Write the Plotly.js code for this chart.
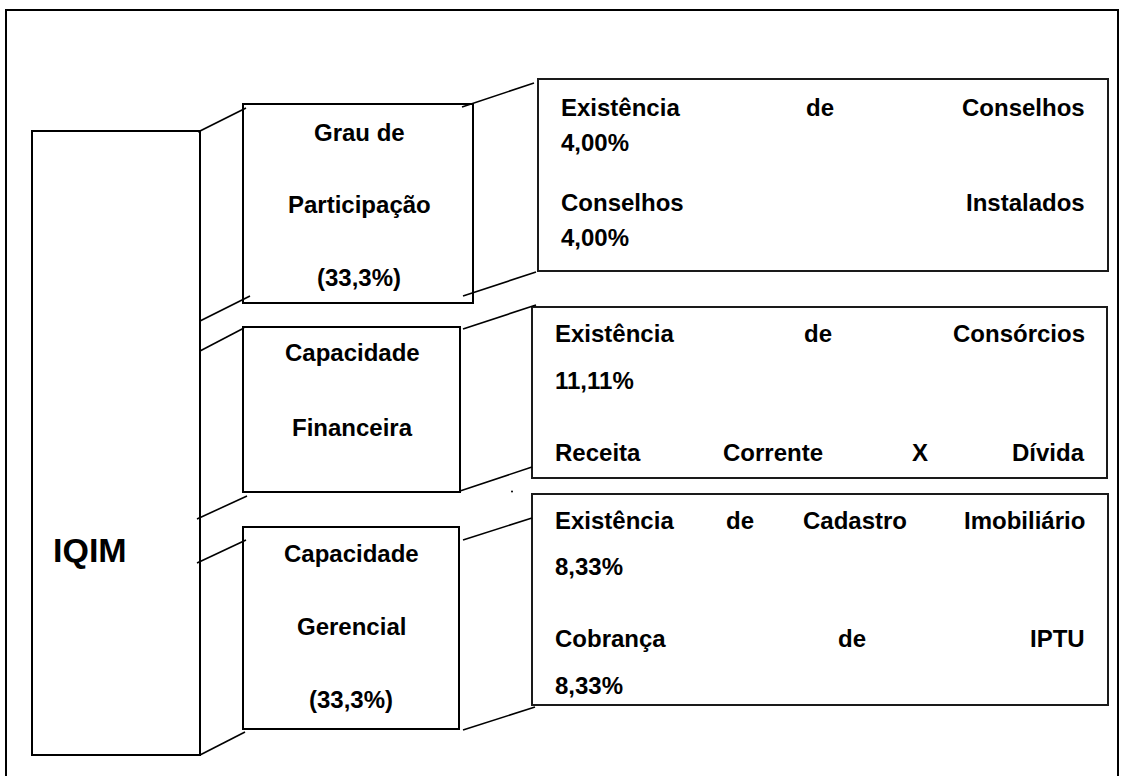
<!DOCTYPE html>
<html>
<head>
<meta charset="utf-8">
<script src="https://cdn.plot.ly/plotly-3.0.1.min.js"></script>
<style>html,body{margin:0;padding:0;background:#fff;}#chart{width:1123px;height:776px;}</style>
</head>
<body>
<div id="chart"></div>
<script>
// ---- content (text values) ----
const rootLabel = 'IQIM';
const dimensionLines = [
  ['Grau de', 'Participação', '(33,3%)'],
  ['Capacidade', 'Financeira'],
  ['Capacidade', 'Gerencial', '(33,3%)']
];
const indicatorLines = [
  [['Existência', 'de', 'Conselhos'], ['4,00%'], ['Conselhos', 'Instalados'], ['4,00%']],
  [['Existência', 'de', 'Consórcios'], ['11,11%'], ['Receita', 'Corrente', 'X', 'Dívida']],
  [['Existência', 'de', 'Cadastro', 'Imobiliário'], ['8,33%'], ['Cobrança', 'de', 'IPTU'], ['8,33%']]
];

// ---- geometry (pixel layout) ----
const frame = {x0: 6, y0: 10, x1: 1118, y1: 780};
const rootBox = {x0: 32, y0: 131, x1: 200, y1: 755, tx: 51, ty: 550};
const dimBoxes = [
  {x0: 243, y0: 104, x1: 473, y1: 303, cx: 359, ys: [132, 204, 277]},
  {x0: 243, y0: 327, x1: 460, y1: 492, cx: 352, ys: [352, 427]},
  {x0: 243, y0: 527, x1: 459, y1: 729, cx: 351, ys: [553, 626, 699]}
];
const indBoxes = [
  {x0: 538, y0: 79, x1: 1108, y1: 271, left: 559, right: 1087, ys: [107, 142, 202, 237],
   mids: [[820], [], [], []]},
  {x0: 532, y0: 307, x1: 1107, y1: 478, left: 553, right: 1087, ys: [333, 380, 452],
   mids: [[818], [], [773, 920]]},
  {x0: 532, y0: 494, x1: 1108, y1: 705, left: 553, right: 1087, ys: [520, 566, 638, 685],
   mids: [[740, 855], [], [852], []]}
];
const connectors = [
  [198, 132, 246, 108], [250, 296, 200, 321],
  [200, 351, 244, 328], [247, 496, 197, 519],
  [197, 563, 246, 540], [245, 732, 200, 755],
  [462, 107, 534, 83], [463, 296, 536, 272],
  [463, 329, 536, 305], [460, 491, 532, 467],
  [463, 540, 532, 518], [463, 730, 535, 707]
];

const FONT = 'Liberation Sans, Arial, Helvetica, sans-serif';
const shapes = [];
const annotations = [];

shapes.push({type: 'path', xref: 'x', yref: 'y',
  path: `M${frame.x0},${frame.y1} L${frame.x0},${frame.y0} L${frame.x1},${frame.y0} L${frame.x1},${frame.y1}`,
  line: {color: '#000', width: 2}});

function rect(b, color, w) {
  shapes.push({type: 'rect', xref: 'x', yref: 'y', x0: b.x0, y0: b.y0, x1: b.x1, y1: b.y1,
    line: {color: color, width: w}, fillcolor: 'rgba(0,0,0,0)'});
}
function txt(text, x, y, anchor, size) {
  annotations.push({xref: 'x', yref: 'y', x: x, y: y, text: text, showarrow: false,
    xanchor: anchor, yanchor: 'middle',
    font: {family: FONT, size: size, color: '#000', weight: 'bold'}});
}

rect(rootBox, '#000', 2);
txt(rootLabel, rootBox.tx, rootBox.ty, 'left', 34);

dimBoxes.forEach((b, i) => {
  rect(b, '#000', 2);
  dimensionLines[i].forEach((t, j) => txt(t, b.cx, b.ys[j], 'center', 24));
});

indBoxes.forEach((b, i) => {
  rect(b, '#1a1a1a', 2);
  indicatorLines[i].forEach((words, j) => {
    const y = b.ys[j];
    if (words.length === 1) { txt(words[0], b.left, y, 'left', 24); return; }
    txt(words[0], b.left, y, 'left', 24);
    b.mids[j].forEach((mx, k) => txt(words[k + 1], mx, y, 'center', 24));
    txt(words[words.length - 1], b.right, y, 'right', 24);
  });
});

connectors.forEach(c => shapes.push({type: 'line', xref: 'x', yref: 'y',
  x0: c[0], y0: c[1], x1: c[2], y1: c[3], line: {color: '#000', width: 1.6}}));

// stray dot seen in the original
shapes.push({type: 'circle', xref: 'x', yref: 'y', x0: 511, y0: 490.5, x1: 513, y1: 492.5,
  line: {width: 0}, fillcolor: '#000'});

const layout = {
  width: 1123, height: 776,
  margin: {l: 0, r: 0, t: 0, b: 0},
  paper_bgcolor: '#fff', plot_bgcolor: '#fff',
  xaxis: {range: [0, 1123], visible: false, fixedrange: true},
  yaxis: {range: [776, 0], visible: false, fixedrange: true},
  showlegend: false,
  shapes: shapes,
  annotations: annotations
};

Plotly.newPlot('chart', [{x: [], y: [], type: 'scatter', mode: 'markers', hoverinfo: 'skip'}], layout,
  {staticPlot: true, displayModeBar: false});
</script>
</body>
</html>
